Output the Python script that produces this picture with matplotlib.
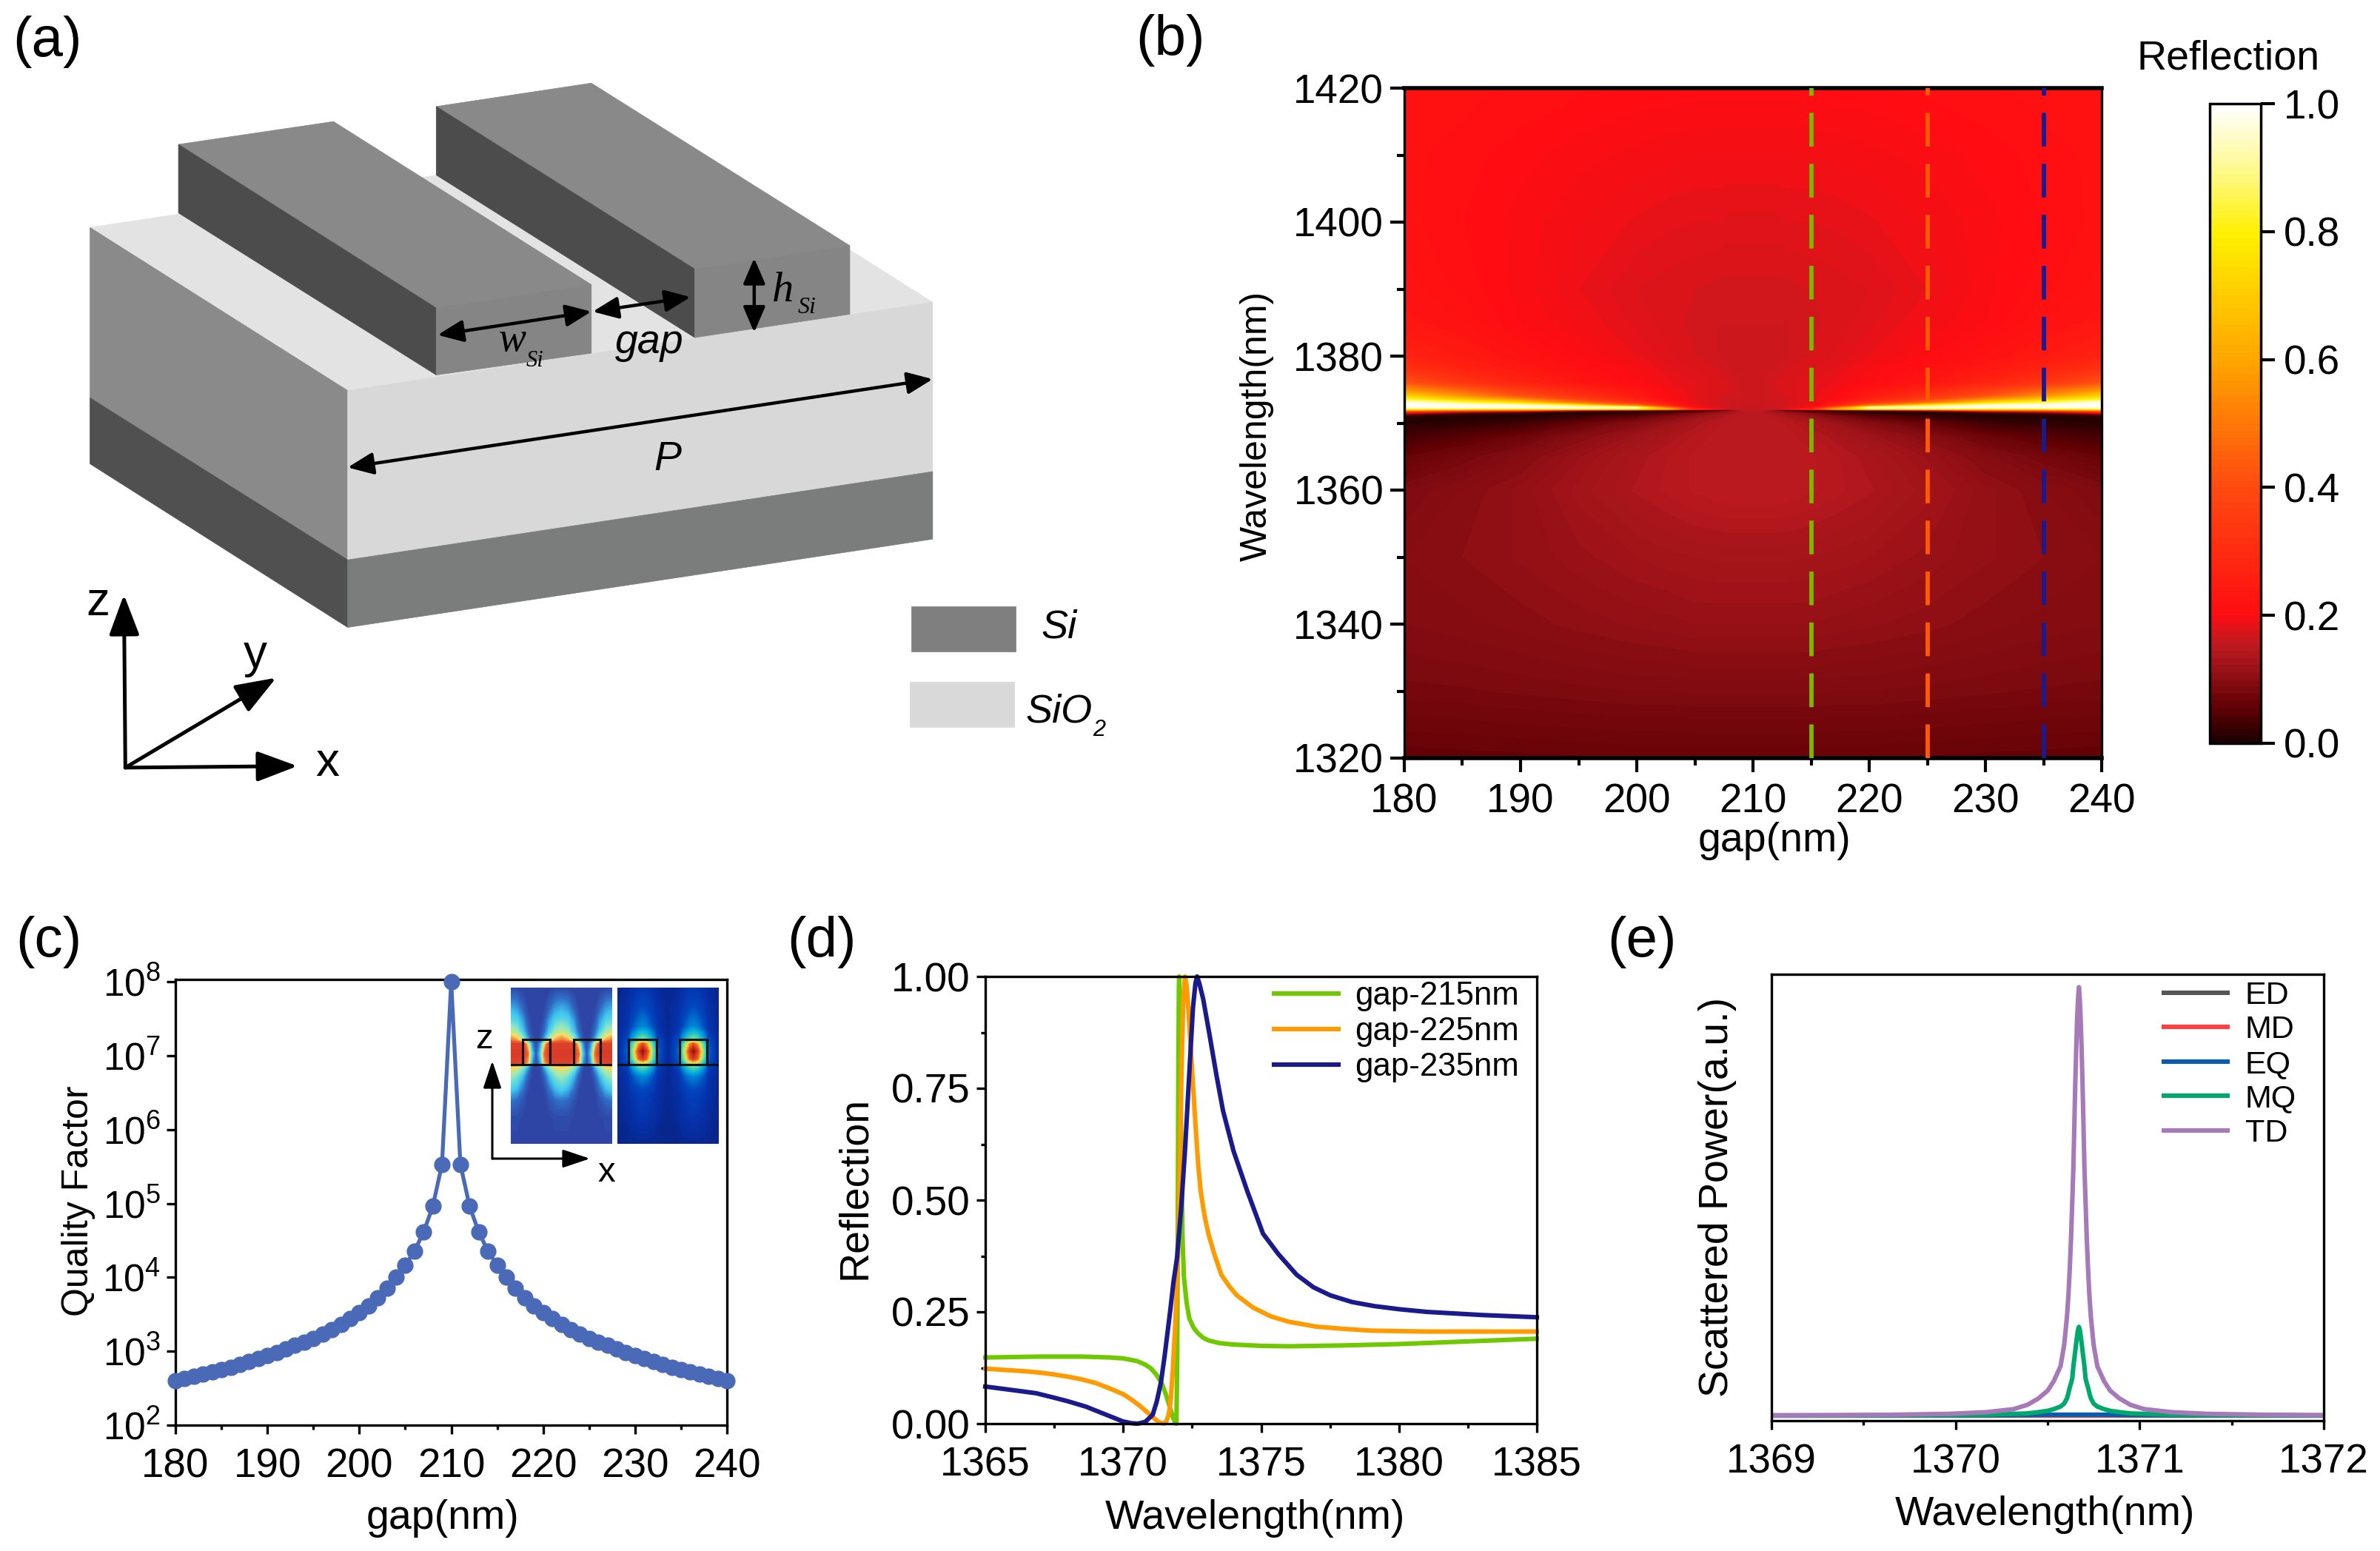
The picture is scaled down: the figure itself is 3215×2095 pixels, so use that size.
import numpy as np
import matplotlib
matplotlib.use("Agg")
import matplotlib.pyplot as plt
from matplotlib.colors import LinearSegmentedColormap, Normalize
from matplotlib.cm import ScalarMappable
from matplotlib.patches import Polygon, Rectangle
from matplotlib.ticker import MultipleLocator, LogLocator, LogFormatterMathtext, NullLocator, FormatStrFormatter

plt.rcParams['font.family'] = ['Liberation Sans', 'DejaVu Sans']
plt.rcParams['mathtext.default'] = 'regular'

W, H = 3216, 2095

# ---------- (b) reflection map: values (one half, mirror about 210 nm)
MAP_GAP_HALF = [180, 185, 190, 195, 200, 203, 205, 207, 208, 209, 210]
MAP_WL = [1320, 1330, 1340, 1350, 1360, 1365, 1368, 1370, 1371, 1371.4, 1371.7, 1371.9, 1372.1, 1372.3,
          1372.6, 1373, 1373.5, 1374, 1375, 1376, 1378, 1380, 1385, 1390, 1400, 1410, 1420]
MAP_R = [
 [.056,.057,.058,.059,.060,.060,.060,.060,.060,.060,.060],
 [.078,.079,.081,.083,.085,.085,.086,.086,.086,.086,.086],
 [.090,.093,.097,.102,.106,.108,.110,.110,.110,.110,.110],
 [.095,.100,.106,.113,.120,.123,.125,.126,.126,.126,.126],
 [.085,.095,.107,.122,.136,.142,.146,.149,.150,.150,.150],
 [.060,.075,.092,.114,.132,.141,.146,.149,.150,.150,.150],
 [.030,.046,.065,.093,.118,.132,.141,.147,.149,.150,.150],
 [.008,.014,.026,.058,.092,.116,.131,.143,.147,.149,.150],
 [.010,.004,.006,.022,.052,.086,.111,.131,.141,.146,.150],
 [.100,.020,.005,.008,.020,.055,.090,.118,.131,.142,.150],
 [.300,.150,.080,.010,.005,.015,.040,.090,.120,.140,.150],
 [.550,.450,.400,.150,.020,.004,.002,.000,.080,.145,.150],
 [.800,.780,.750,.800,.800,.600,.300,.190,.160,.155,.155],
 [.950,.970,.980,.980,.950,.450,.200,.175,.165,.160,.160],
 [1.00,.990,.980,.820,.500,.260,.190,.170,.165,.160,.160],
 [.980,.880,.750,.500,.330,.220,.180,.170,.165,.160,.160],
 [.850,.700,.550,.380,.260,.200,.180,.170,.165,.163,.162],
 [.720,.560,.420,.320,.240,.195,.180,.170,.167,.165,.165],
 [.550,.440,.340,.270,.220,.190,.180,.172,.170,.165,.165],
 [.420,.330,.270,.225,.200,.185,.180,.172,.170,.165,.165],
 [.320,.270,.235,.210,.195,.180,.175,.170,.165,.165,.165],
 [.270,.240,.215,.200,.185,.175,.170,.165,.165,.165,.165],
 [.230,.215,.200,.190,.178,.172,.168,.165,.165,.165,.165],
 [.218,.208,.198,.185,.175,.172,.170,.168,.168,.168,.168],
 [.212,.205,.198,.190,.184,.181,.180,.180,.178,.178,.178],
 [.212,.207,.202,.197,.193,.191,.190,.190,.190,.190,.190],
 [.215,.212,.209,.206,.204,.203,.202,.202,.202,.202,.202],
]
CUT_GAPS = [215, 225, 235]
CUT_COLORS = ['#7ab800', '#ff5a00', '#1a1a8c']

# ---------- (c) quality factor (left wing, mirrored about 210 nm)
GAP_LEFT = list(range(180, 210))
Q_LEFT = [400, 430, 460, 490, 530, 570, 610, 660, 720, 800,
          880, 970, 1080, 1200, 1340, 1500, 1700, 1950, 2300, 2750,
          3300, 4100, 5300, 7200, 10200, 14500, 22800, 41000, 92000, 340000]
Q_PEAK = 1e8

# ---------- (d) reflection spectra
WL_215 = [1365, 1367, 1368.5, 1369.5, 1370, 1370.5, 1370.8, 1371, 1371.2, 1371.4, 1371.55, 1371.7, 1371.8, 1371.88,
          1371.93, 1371.96, 1371.98, 1372.0, 1372.02, 1372.03, 1372.06, 1372.1, 1372.15, 1372.2, 1372.3, 1372.4,
          1372.55, 1372.7, 1372.9, 1373.1, 1373.5, 1374, 1375, 1376, 1378, 1380, 1385]
R_215 = [.148, .150, .150, .148, .146, .140, .132, .124, .110, .090, .065, .035, .015, .003,
         0, .15, .45, .80, .98, 1.0, .93, .65, .42, .33, .27, .235,
         .215, .203, .192, .186, .180, .177, .174, .173, .175, .178, .190]
WL_225 = [1365, 1365.5, 1366, 1366.5, 1367, 1367.5, 1368, 1368.5, 1369, 1369.5, 1370, 1370.3, 1370.6, 1370.9, 1371.1,
          1371.3, 1371.47, 1371.57, 1371.65, 1371.72, 1371.8, 1371.87, 1371.93, 1372, 1372.06, 1372.12, 1372.18,
          1372.24, 1372.3, 1372.36, 1372.43, 1372.52, 1372.62, 1372.72, 1372.81, 1372.95, 1373.09, 1373.3, 1373.56,
          1373.85, 1374.12, 1374.7, 1375.35, 1376, 1377, 1378, 1379, 1381, 1385]
R_225 = [.123, .121, .119, .117, .114, .110, .105, .099, .091, .079, .066, .054, .040, .024, .013,
         .003, 0, .006, .020, .050, .120, .200, .280, .400, .600, .800, .950,
         1.0, .98, .93, .86, .77, .67, .58, .52, .465, .425, .38, .333,
         .307, .287, .26, .24, .228, .217, .212, .208, .206, .206]
WL_235 = [1365, 1365.5, 1366, 1366.85, 1367.5, 1368, 1368.65, 1369.3, 1369.99, 1370.3, 1370.53, 1370.8, 1371.07, 1371.22,
          1371.37, 1371.5, 1371.6, 1371.72, 1371.82, 1371.95, 1372.1, 1372.24, 1372.33, 1372.43, 1372.53, 1372.62, 1372.68,
          1372.76, 1372.9, 1373.13, 1373.38, 1373.62, 1374, 1374.5, 1375.07, 1375.63, 1376.29, 1376.9, 1377.51, 1378.3,
          1379.1, 1380, 1381, 1383, 1385]
R_235 = [.083, .079, .075, .068, .058, .050, .038, .022, .005, .001, 0, .004, .020, .050,
         .093, .150, .200, .260, .315, .370, .480, .610, .710, .820, .930, .985, 1.0,
         .985, .950, .870, .780, .700, .610, .520, .425, .379, .333, .305, .287, .272,
         .263, .256, .250, .243, .238]
SPECTRA_LABELS = ['gap-215nm', 'gap-225nm', 'gap-235nm']
SPECTRA_COLORS = ['#6fc800', '#ff9a00', '#1a1a8c']

# ---------- (e) multipole scattering (offset from the resonance, mirrored)
E_PEAK = 1370.67
E_OFFSET = [0, .005, .01, .015, .02, .03, .036, .043, .05, .057, .065, .08, .1, .137, .17, .22, .28, .355, .5, .7, 1.0, 1.33, 1.67]
P_TD = [1, .97, .92, .85, .77, .58, .50, .41, .34, .28, .23, .165, .115, .080, .058, .040, .025, .015, .008, .004, .002, .001, .0005]
P_MQ = [.207, .200, .185, .168, .150, .115, .087, .075, .065, .052, .040, .028, .021, .015, .011, .008, .005, .004, .002, .001, .0005, .0002, .0001]
P_EQ = [.002] * 15 + [.0015, .0012, .001, .0005, .0003, .0002, 0, 0]
P_MD = [0] * 23
P_ED = [0] * 23
E_LABELS = ['ED', 'MD', 'EQ', 'MQ', 'TD']
E_COLORS = ['#555555', '#ff4040', '#0a5cb0', '#00a86b', '#a679b8']

# ---------- inset field maps (rows: height in the inset, columns: distance inside one period)
FIELD_Y = [72, 150, 200, 250, 285, 300, 340, 375, 395, 430, 480, 530, 600, 705]
FIELD_L_D = [0, 25, 50, 70, 85, 102]
FIELD_L = [
 [.12,.12,.11,.10,.10,.10], [.30,.27,.18,.12,.10,.09], [.40,.37,.27,.15,.11,.09],
 [.58,.52,.35,.20,.13,.10], [.78,.72,.55,.30,.16,.11], [.88,.88,.88,.62,.28,.12],
 [.90,.90,.90,.78,.38,.15], [.88,.88,.85,.70,.30,.13], [.65,.62,.48,.28,.14,.10],
 [.52,.46,.32,.18,.12,.10], [.38,.33,.22,.13,.10,.09], [.22,.20,.15,.11,.09,.09],
 [.13,.13,.12,.10,.10,.10], [.12,.12,.11,.11,.11,.11]]
FIELD_R_Y = [72, 150, 230, 260, 285, 300, 330, 360, 380, 400, 430, 500, 600, 705]
FIELD_R_D = [0, 15, 30, 45, 60, 102]
FIELD_R = [
 [.12,.12,.11,.09,.07,.05], [.20,.19,.16,.13,.10,.05], [.30,.28,.24,.19,.12,.05],
 [.42,.40,.34,.27,.15,.05], [.55,.50,.42,.33,.20,.06], [.80,.72,.58,.42,.22,.06],
 [.97,.85,.68,.48,.25,.05], [.85,.78,.62,.44,.23,.05], [.60,.55,.45,.35,.20,.05],
 [.45,.42,.36,.28,.15,.05], [.30,.28,.25,.20,.12,.05], [.17,.16,.14,.12,.09,.05],
 [.12,.12,.10,.09,.07,.04], [.05,.05,.05,.05,.04,.04]]

fig = plt.figure(figsize=(W / 100, H / 100), dpi=100, facecolor='white')


def axes_px(x0, y0, x1, y1, **kw):
    return fig.add_axes([x0 / W, 1 - y1 / H, (x1 - x0) / W, (y1 - y0) / H], **kw)


ov = fig.add_axes([0, 0, 1, 1], zorder=20)
ov.set_xlim(0, W); ov.set_ylim(H, 0); ov.axis('off'); ov.patch.set_alpha(0)


def place_labels(ax, xl, xpos, yl, ypos, fs=40, yfs=None):
    if xl:
        ax.set_xlabel(xl, fontsize=fs, va='center', ha='center')
        ax.xaxis.set_label_coords(*xpos, transform=ov.transData)
    if yl:
        ax.set_ylabel(yl, fontsize=yfs or fs, va='center', ha='center')
        ax.yaxis.set_label_coords(*ypos, transform=ov.transData)


def style(ax, lw=2.4, ml=8.6, mnl=4.5, pad=13, fs=39.5):
    for s in ax.spines.values():
        s.set_linewidth(lw)
    ax.tick_params(which='major', length=ml, width=lw, labelsize=fs, pad=pad)
    ax.tick_params(which='minor', length=mnl, width=lw)


for t, x, y in [('(a)', 64, 57), ('(b)', 1581, 55), ('(c)', 66, 1273), ('(d)', 1110, 1273), ('(e)', 2218, 1273)]:
    ov.text(x, y, t, fontsize=55, ha='center', va='center')

# ---------- (a) schematic, drawn in a local frame
axa = axes_px(0, 0, 1500, 1100, zorder=1)
axa.set_xlim(0, 1568); axa.set_ylim(1568, 0); axa.axis('off')
FACES = [
 ([(127,438),(953,268),(1317,582),(491,752)], '#e3e3e3'),
 ([(127,438),(491,752),(491,1078),(127,766)], '#8a8a8a'),
 ([(127,766),(491,1078),(491,1208),(127,893)], '#505050'),
 ([(491,752),(1317,582),(1317,908),(491,1078)], '#d8d8d8'),
 ([(491,1078),(1317,908),(1317,1038),(491,1208)], '#7a7d7c'),
 ([(252,278),(471,234),(835,548),(616,593)], '#898989'),
 ([(252,278),(616,593),(616,722),(252,410)], '#4c4c4c'),
 ([(616,593),(835,548),(835,680),(616,722)], '#858585'),
 ([(616,205),(835,160),(1200,473),(981,518)], '#898989'),
 ([(616,205),(981,518),(981,650),(616,337)], '#4c4c4c'),
 ([(981,518),(1200,473),(1200,605),(981,650)], '#858585'),
 ([(1287,1168),(1434,1168),(1434,1255),(1287,1255)], '#7f7f7f'),
 ([(1285,1313),(1432,1313),(1432,1400),(1285,1400)], '#d9d9d9'),
]
for pts, c in FACES:
    axa.add_patch(Polygon(pts, closed=True, fc=c, ec=c, lw=0.5))
for a, b in [((618,645),(835,600)), ((837,600),(975,572)), ((1065,497),(1065,640)), ((491,900),(1317,730))]:
    axa.annotate('', xy=b, xytext=a, arrowprops=dict(arrowstyle='<|-|>,head_length=0.7,head_width=0.3', color='k', lw=3.2, shrinkA=0, shrinkB=0, mutation_scale=30))
for b in [(175,1145), (390,1305), (420,1475)]:
    axa.annotate('', xy=b, xytext=(177,1478), arrowprops=dict(arrowstyle='-|>,head_length=0.8,head_width=0.3', color='k', lw=3.6, shrinkA=0, shrinkB=0, mutation_scale=42))
for s, x, y, fs, fam in [('w', 724, 655, 40, 'Liberation Serif'), ('Si', 755, 695, 22, 'Liberation Serif'),
                         ('gap', 917, 660, 40, 'Liberation Sans'), ('h', 1105, 560, 42, 'Liberation Serif'),
                         ('Si', 1140, 592, 23, 'Liberation Serif'), ('P', 943, 885, 40, 'Liberation Sans'),
                         ('Si', 1495, 1208, 39, 'Liberation Sans'), ('SiO', 1495, 1370, 39, 'Liberation Sans'),
                         ('2', 1552, 1405, 22, 'Liberation Sans')]:
    axa.text(x, y, s, fontsize=fs, family=fam, style='italic', ha='center', va='center', clip_on=False)
for s, x, y in [('z', 138, 1160), ('y', 360, 1262), ('x', 462, 1470)]:
    axa.text(x, y, s, fontsize=46, ha='center', va='center')

# ---------- (b) map
cmap_r = LinearSegmentedColormap.from_list('redhot', [
    (0, '#200000'), (.05, '#5e0004'), (.1, '#8e0f14'), (.15, '#be1a20'), (.2, '#ff0d12'), (.3, '#ff2c10'),
    (.4, '#ff4a10'), (.6, '#ffa500'), (.8, '#fff000'), (.9, '#fff98c'), (1, '#ffffff')], N=256)
axb = axes_px(1897, 119, 2839, 1024)
half = np.array(MAP_R)
Z = np.hstack([half, half[:, -2::-1]])
gx = np.array(MAP_GAP_HALF + [420 - g for g in MAP_GAP_HALF[-2::-1]])
axb.contourf(gx, MAP_WL, Z, levels=np.linspace(0, 1, 201), cmap=cmap_r, vmin=0, vmax=1, extend='both')
for g, c in zip(CUT_GAPS, CUT_COLORS):
    axb.axvline(g, color=c, lw=4.2, dashes=(7.8, 4.0), zorder=5)
axb.set_xlim(180, 240); axb.set_ylim(1320, 1420)
axb.xaxis.set_major_locator(MultipleLocator(10)); axb.xaxis.set_minor_locator(MultipleLocator(5))
axb.yaxis.set_major_locator(MultipleLocator(20)); axb.yaxis.set_minor_locator(MultipleLocator(10))
style(axb, lw=3.0, ml=14, mnl=7, pad=10)
axb.tick_params(axis='y', pad=6)
axb.spines['left'].set_linewidth(2.4); axb.spines['right'].set_linewidth(2.4)
axb.spines['top'].set_linewidth(4); axb.spines['bottom'].set_linewidth(4)
place_labels(axb, 'gap(nm)', (2397, 1136), 'Wavelength(nm)', (1698, 575), yfs=36)

cax = axes_px(2985, 140, 3054, 1004)
sm = ScalarMappable(norm=Normalize(0, 1), cmap=LinearSegmentedColormap.from_list('rb', cmap_r(np.linspace(0, 1, 256)), N=90))
cb = fig.colorbar(sm, cax=cax)
cb.set_ticks([0, .2, .4, .6, .8, 1.0])
cb.ax.tick_params(length=14, width=3, labelsize=39.5, pad=8)
cb.outline.set_linewidth(2.5)
ov.text(3010, 79, 'Reflection', fontsize=40, ha='center', va='center')

# ---------- (c)
axc = axes_px(237, 1323, 982, 1925)
gaps = GAP_LEFT + [210] + [420 - g for g in GAP_LEFT[::-1]]
Q = Q_LEFT + [Q_PEAK] + Q_LEFT[::-1]
axc.plot(gaps, Q, color='#4a6ab8', lw=3.8, marker='o', ms=15, clip_on=False, zorder=5)
axc.set_yscale('log')
axc.set_xlim(180, 240); axc.set_ylim(1e2, 1.08e8)
axc.xaxis.set_major_locator(MultipleLocator(10)); axc.xaxis.set_minor_locator(MultipleLocator(5))
axc.yaxis.set_major_locator(LogLocator(10, numticks=10)); axc.yaxis.set_major_formatter(LogFormatterMathtext())
axc.yaxis.set_minor_locator(NullLocator())
style(axc)
axc.tick_params(axis='y', pad=6, labelsize=37)
place_labels(axc, 'gap(nm)', (598, 2051), 'Quality Factor', (106, 1622), yfs=36)

# inset
cmap_l = LinearSegmentedColormap.from_list('jl', [(0, '#2f45a5'), (.12, '#2f45a5'), (.22, '#2f70c8'), (.35, '#40c8f0'), (.5, '#90e8c0'),
                                                    (.65, '#f5e060'), (.8, '#f06030'), (1, '#c01820')])
cmap_d = LinearSegmentedColormap.from_list('jd', [(0, '#0a1f7a'), (.1, '#0530a8'), (.2, '#0048c0'), (.35, '#00a8e0'), (.5, '#60e0a0'),
                                                    (.65, '#f0e040'), (.8, '#f05020'), (1, '#8a0a10')])


def field(ax, d, ys, table, x0, n, cm):
    t = np.array(table)
    one_x = list(d) + [205 - v for v in d[-2::-1]]
    one_z = np.hstack([t, t[:, -2::-1]])
    xs, zs = [], []
    for k in range(n):
        xs += [x0 + 205 * k + v for v in one_x[:-1]]
        zs.append(one_z[:, :-1])
    xs.append(x0 + 205 * n)
    zs.append(one_z[:, :1])
    ax.contourf(xs, ys, np.hstack(zs), levels=np.linspace(0, 1, 65), cmap=cm, vmin=0, vmax=1)
    ax.axis('off')


axl = axes_px(690, 1334, 827, 1545, zorder=6)
field(axl, FIELD_L_D, FIELD_Y, FIELD_L, 90, 2, cmap_l)
axl.set_xlim(90, 500); axl.set_ylim(705, 72)
for x0, x1 in [(138, 250), (343, 453)]:
    axl.add_patch(Rectangle((x0, 283), x1 - x0, 100, fc='none', ec='#111111', lw=2.2))
axl.plot([92, 500], [383, 383], color='#111111', lw=2.2)
axr = axes_px(834, 1334, 971, 1545, zorder=6)
field(axr, FIELD_R_D, FIELD_R_Y, FIELD_R, 420, 3, cmap_d)
axr.set_xlim(523, 932); axr.set_ylim(705, 72)
for x0, x1 in [(568, 682), (773, 885)]:
    axr.add_patch(Rectangle((x0, 283), x1 - x0, 100, fc='none', ec='#111111', lw=2.2))
axr.plot([525, 932], [383, 383], color='#111111', lw=2.2)
for b in [(665, 1433), (797, 1565)]:
    ov.annotate('', xy=b, xytext=(665, 1565), arrowprops=dict(arrowstyle='-|>,head_length=0.75,head_width=0.25', color='k', lw=2.2, shrinkA=0, shrinkB=0, mutation_scale=30))
ov.text(654, 1404, 'z', fontsize=34, ha='center', va='center')
ov.text(819, 1584, 'x', fontsize=34, ha='center', va='center')

# ---------- (d)
axd = axes_px(1331, 1319, 2076, 1923)
for w, r, l, c in zip([WL_215, WL_225, WL_235], [R_215, R_225, R_235], SPECTRA_LABELS, SPECTRA_COLORS):
    axd.plot(w, r, color=c, lw=4.4, label=l, clip_on=False)
axd.set_xlim(1365, 1385); axd.set_ylim(0, 1)
axd.xaxis.set_major_locator(MultipleLocator(5)); axd.xaxis.set_minor_locator(MultipleLocator(2.5))
axd.yaxis.set_major_locator(MultipleLocator(.25)); axd.yaxis.set_minor_locator(MultipleLocator(.125))
axd.yaxis.set_major_formatter(FormatStrFormatter('%.2f'))
style(axd)
axd.tick_params(axis='y', pad=6)
place_labels(axd, 'Wavelength(nm)', (1695, 2051), 'Reflection', (1155, 1604))
axd.legend(loc='upper right', bbox_to_anchor=(2052, 1325), bbox_transform=ov.transData, frameon=False, fontsize=31.5,
           handlelength=2.0, handletextpad=0.5, labelspacing=0.16, borderpad=0, borderaxespad=0)

# ---------- (e)
axe = axes_px(2393, 1316, 3139, 1919)
for p, l, c in zip([P_ED, P_MD, P_EQ, P_MQ, P_TD], E_LABELS, E_COLORS):
    x = [E_PEAK - v for v in E_OFFSET[::-1]] + [E_PEAK + v for v in E_OFFSET[1:]]
    y = p[::-1] + p[1:]
    axe.plot(x, y, color=c, lw=4.4, label=l)
axe.set_xlim(1369, 1372); axe.set_ylim(-.012, 1.03)
axe.xaxis.set_major_locator(MultipleLocator(1)); axe.xaxis.set_minor_locator(MultipleLocator(.5))
axe.yaxis.set_major_locator(NullLocator())
axe.xaxis.set_major_formatter(FormatStrFormatter('%d'))
style(axe)
place_labels(axe, 'Wavelength(nm)', (2762, 2046), 'Scattered Power(a.u.)', (2320, 1617))
axe.legend(loc='upper right', bbox_to_anchor=(3102, 1325), bbox_transform=ov.transData, frameon=False, fontsize=31,
           handlelength=2.0, handletextpad=0.55, labelspacing=0.15, borderpad=0, borderaxespad=0)

fig.savefig('out.png', dpi=100)
